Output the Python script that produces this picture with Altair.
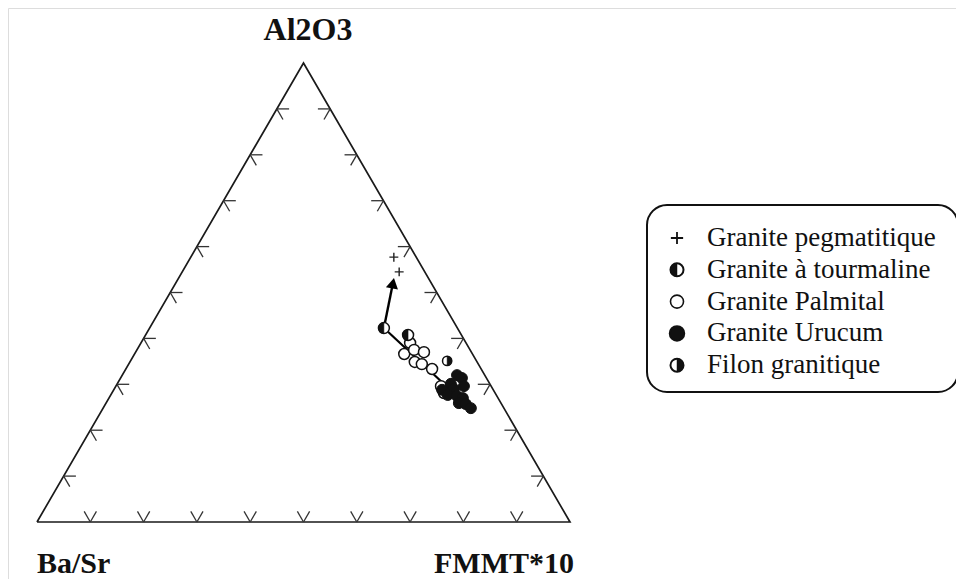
import altair as alt
import pandas as pd

# ---------------- data (ternary percentages: Al2O3, Ba/Sr, FMMT*10) ----------------
CATEGORIES = ["Granite pegmatitique", "Granite à tourmaline", "Granite Palmital",
              "Granite Urucum", "Filon granitique"]
VERTEX_LABELS = ["Al2O3", "Ba/Sr", "FMMT*10"]
TICKS = [10, 20, 30, 40, 50, 60, 70, 80, 90]

PEG_AL = [57.7, 54.5]
PEG_BASR = [4.2, 4.8]
PEG_FMMT = [38.1, 40.7]

TOUR_AL = [42.3, 40.7]
TOUR_BASR = [13.8, 10.0]
TOUR_FMMT = [44.0, 49.2]

PALM_AL = [39.0, 36.6, 37.5, 37.0, 34.9, 34.4, 33.3, 29.6, 28.1]
PALM_BASR = [10.5, 12.8, 10.5, 8.9, 11.7, 10.6, 9.2, 9.4, 9.6]
PALM_FMMT = [50.5, 50.6, 52.0, 54.1, 53.5, 55.0, 57.4, 61.0, 62.3]

URU_AL = [32.0, 31.4, 30.1, 28.8, 29.0, 27.7, 27.5, 27.0, 25.9, 25.7, 24.8, 29.6]
URU_BASR = [5.2, 4.6, 7.3, 9.6, 7.3, 9.1, 7.5, 6.6, 7.9, 6.7, 6.2, 5.1]
URU_FMMT = [62.8, 64.1, 62.6, 61.6, 63.8, 63.3, 65.1, 66.4, 66.2, 67.6, 69.0, 65.3]

FIL_AL = [35.1]
FIL_BASR = [5.5]
FIL_FMMT = [59.4]

TREND_AL = [42.3, 24.4]
TREND_BASR = [13.8, 6.2]
TREND_FMMT = [44.0, 69.4]

ARROW_AL = [42.3, 52.1]
ARROW_BASR = [13.8, 7.2]
ARROW_FMMT = [44.0, 40.8]

# ---------------- layout ----------------
W, H = 948, 571
XS = alt.Scale(domain=[-29 / 533, 919 / 533], nice=False, zero=False)
YS = alt.Scale(domain=[-57 / 530, 514 / 530], nice=False, zero=False)
TICK_LEN = 2.3  # in percent units
SERIF = "Liberation Serif"

CALC_X = "(datum.fmmt + datum.al/2) / (datum.al + datum.basr + datum.fmmt)"
CALC_Y = "0.8660254 * datum.al / (datum.al + datum.basr + datum.fmmt)"
CALC_X2 = "(datum.fmmt2 + datum.al2/2) / (datum.al2 + datum.basr2 + datum.fmmt2)"
CALC_Y2 = "0.8660254 * datum.al2 / (datum.al2 + datum.basr2 + datum.fmmt2)"


def tern_df(al, basr, fmmt):
    return pd.DataFrame({"al": al, "basr": basr, "fmmt": fmmt, "i": list(range(len(al)))})


def base(df):
    return alt.Chart(df).transform_calculate(X=CALC_X, Y=CALC_Y)


def xy():
    return dict(x=alt.X("X:Q", scale=XS, axis=None), y=alt.Y("Y:Q", scale=YS, axis=None))


# triangle outline
tri = tern_df([0, 0, 100, 0], [100, 0, 0, 100], [0, 100, 0, 0])
triangle = base(tri).mark_line(color="#1a1a1a", strokeWidth=1.7).encode(
    order="i:Q", **xy())

# ticks (two short grid-direction arms at each tick of each edge)
rows = []
L = TICK_LEN
for t in TICKS:
    # bottom edge (Al2O3 = 0)
    p = (0, 100 - t, t)
    rows.append(p + (L, 100 - t, t - L))
    rows.append(p + (L, 100 - t - L, t))
    # left edge (FMMT = 0)
    p = (t, 100 - t, 0)
    rows.append(p + (t, 100 - t - L, L))
    rows.append(p + (t - L, 100 - t, L))
    # right edge (Ba/Sr = 0)
    p = (t, 0, 100 - t)
    rows.append(p + (t, L, 100 - t - L))
    rows.append(p + (t - L, L, 100 - t))
ticks_df = pd.DataFrame(rows, columns=["al", "basr", "fmmt", "al2", "basr2", "fmmt2"])
ticks = alt.Chart(ticks_df).transform_calculate(
    X=CALC_X, Y=CALC_Y, X2=CALC_X2, Y2=CALC_Y2
).mark_rule(color="#333333", strokeWidth=1.3).encode(
    x2="X2:Q", y2="Y2:Q", **xy())

trend = base(tern_df(TREND_AL, TREND_BASR, TREND_FMMT)).mark_line(
    color="black", strokeWidth=2.2).encode(order="i:Q", **xy())
arrow_df = tern_df(ARROW_AL, ARROW_BASR, ARROW_FMMT)
arrow = base(arrow_df).mark_line(color="black", strokeWidth=2.4).encode(order="i:Q", **xy())
arrow_head = base(arrow_df).transform_filter("datum.i == 1").mark_point(
    shape="triangle-up", filled=True, color="black", size=150, angle=11, opacity=1
).encode(**xy())

PLUS = "M-1,0H1M0,-1V1"
LEFT_HALF = "M0,-1A1,1,0,0,0,0,1Z"
RIGHT_HALF = "M0,-1A1,1,0,0,1,0,1Z"
PT = 120

peg = base(tern_df(PEG_AL, PEG_BASR, PEG_FMMT)).mark_point(
    shape=PLUS, filled=False, stroke="#222", strokeWidth=1.4, size=80, opacity=1
).encode(**xy())

palm = base(tern_df(PALM_AL, PALM_BASR, PALM_FMMT)).mark_point(
    shape="circle", filled=True, fill="white", stroke="#111", strokeWidth=1.5,
    size=PT, opacity=1, fillOpacity=1
).encode(**xy())

uru = base(tern_df(URU_AL, URU_BASR, URU_FMMT)).mark_point(
    shape="circle", filled=True, fill="#111", stroke="#111", strokeWidth=1,
    size=PT, opacity=1
).encode(**xy())


def half_marker(df, path, size):
    ring = base(df).mark_point(shape="circle", filled=True, fill="white", stroke="#111",
                               strokeWidth=1.5, size=size, opacity=1).encode(**xy())
    half = base(df).mark_point(shape=path, filled=True, fill="#111", stroke="#111",
                               strokeWidth=0.5, size=size, opacity=1).encode(**xy())
    return [ring, half]


tour_layers = half_marker(tern_df(TOUR_AL, TOUR_BASR, TOUR_FMMT), LEFT_HALF, PT)
fil_layers = half_marker(tern_df(FIL_AL, FIL_BASR, FIL_FMMT), RIGHT_HALF, 85)

# vertex labels
lab_df = pd.DataFrame({"label": VERTEX_LABELS})
lab_top = alt.Chart(lab_df).transform_filter("datum.label == 'Al2O3'").mark_text(
    font=SERIF, fontWeight="bold", fontSize=32, align="center", baseline="alphabetic",
    color="#111").encode(text="label:N", x=alt.value(300), y=alt.value(32))
lab_left = alt.Chart(lab_df).transform_filter("datum.label == 'Ba/Sr'").mark_text(
    font=SERIF, fontWeight="bold", fontSize=30, align="left", baseline="alphabetic",
    color="#111").encode(text="label:N", x=alt.value(29), y=alt.value(565))
lab_right = alt.Chart(lab_df).transform_filter("datum.label == 'FMMT*10'").mark_text(
    font=SERIF, fontWeight="bold", fontSize=30, align="right", baseline="alphabetic",
    color="#111").encode(text="label:N", x=alt.value(566), y=alt.value(565))

# legend (drawn by hand)
box = alt.Chart(pd.DataFrame({"a": [0]})).mark_rect(
    fill="white", stroke="#111", strokeWidth=2, cornerRadius=20
).encode(x=alt.value(639), x2=alt.value(950), y=alt.value(197), y2=alt.value(384))

legend_layers = [box]
LEG_X, LEG_Y0, LEG_DY = 669, 230, 31.8
for k, cat in enumerate(CATEGORIES):
    yy = LEG_Y0 + k * LEG_DY
    d = pd.DataFrame({"label": [cat]})
    pos = dict(x=alt.value(LEG_X), y=alt.value(yy))
    if k == 0:
        legend_layers.append(alt.Chart(d).mark_point(
            shape=PLUS, filled=False, stroke="#111", strokeWidth=1.8, size=150, opacity=1
        ).encode(**pos))
    elif k == 2:
        legend_layers.append(alt.Chart(d).mark_point(
            shape="circle", filled=True, fill="white", stroke="#111", strokeWidth=1.6,
            size=170, opacity=1).encode(**pos))
    elif k == 3:
        legend_layers.append(alt.Chart(d).mark_point(
            shape="circle", filled=True, fill="#111", stroke="#111", size=210, opacity=1
        ).encode(**pos))
    else:
        path = LEFT_HALF if k == 1 else RIGHT_HALF
        legend_layers.append(alt.Chart(d).mark_point(
            shape="circle", filled=True, fill="white", stroke="#111", strokeWidth=2,
            size=170, opacity=1).encode(**pos))
        legend_layers.append(alt.Chart(d).mark_point(
            shape=path, filled=True, fill="#111", stroke="#111", strokeWidth=0.5,
            size=170, opacity=1).encode(**pos))
    legend_layers.append(alt.Chart(d).mark_text(
        font=SERIF, fontSize=27, align="left", baseline="middle", color="#111"
    ).encode(text="label:N", x=alt.value(699), y=alt.value(yy)))

chart = alt.layer(
    triangle, ticks, trend, arrow, arrow_head, peg, palm, uru,
    *tour_layers, *fil_layers, lab_top, lab_left, lab_right, *legend_layers
).properties(
    width=W, height=H, padding=0,
    autosize=alt.AutoSizeParams(type="none")
).configure_view(stroke=None).configure(background="white")

chart.save("out.html", embed_options={"renderer": "svg", "actions": False})
